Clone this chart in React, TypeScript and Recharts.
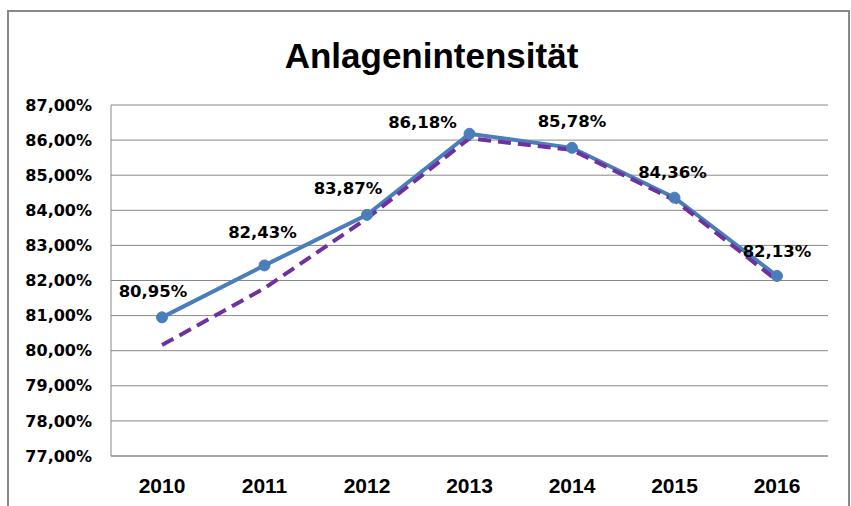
import React from "react";
import {
  LineChart,
  Line,
  XAxis,
  YAxis,
  CartesianGrid,
  LabelList,
} from "recharts";

// values
const years = ["2010", "2011", "2012", "2013", "2014", "2015", "2016"];
const intensity = [80.95, 82.43, 83.87, 86.18, 85.78, 84.36, 82.13];
const trend = [80.16, 81.78, 83.77, 86.05, 85.72, 84.29, 82.0];
const yTicks = [77, 78, 79, 80, 81, 82, 83, 84, 85, 86, 87];

// label nudges (the original labels were hand-placed)
const labelDx = [-9, -2, -19, -47, 0, -2, 0];
const labelDy = [-26, -33, -26, -11, -26, -25, -24];

const data = years.map((year, i) => ({
  year,
  value: intensity[i],
  trend: trend[i],
}));

const pct = (v: number) => `${v.toFixed(2).replace(".", ",")}%`;

const PointLabel = (props: any) => {
  const { x, y, value, index } = props;
  return (
    <text
      x={x + labelDx[index]}
      y={y + labelDy[index]}
      textAnchor="middle"
      dominantBaseline="central"
      fontFamily="DejaVu Sans"
      fontWeight="bold"
      fontSize={16.5}
      fill="#000"
    >
      {pct(value)}
    </text>
  );
};

export default function App() {
  return (
    <div
      style={{
        position: "absolute",
        left: 0,
        top: 0,
        width: 851,
        height: 506,
        overflow: "hidden",
        background: "#fff",
      }}
    >
      <div
        style={{
          position: "absolute",
          left: 7,
          top: 10,
          width: 839,
          height: 600,
          border: "2px solid #888",
        }}
      />
      <div
        style={{
          position: "absolute",
          left: 431.5,
          top: 37.6,
          transform: "translateX(-50%)",
          whiteSpace: "nowrap",
          fontFamily: "Liberation Sans",
          fontWeight: "bold",
          fontSize: 35,
          lineHeight: "35px",
          color: "#000",
        }}
      >
        Anlagenintensität
      </div>
      <div style={{ position: "absolute", left: 0, top: 0 }}>
        <LineChart
          width={851}
          height={506}
          data={data}
          margin={{ top: 105, right: 23, bottom: 0, left: 0 }}
        >
          <CartesianGrid vertical={false} stroke="#888" strokeWidth={1} />
          <XAxis
            dataKey="year"
            height={50}
            padding={{ left: 51, right: 51 }}
            axisLine={{ stroke: "#888" }}
            tickLine={false}
            tickSize={0}
            tickMargin={22}
            tick={{
              fill: "#000",
              fontFamily: "Liberation Sans",
              fontWeight: "bold",
              fontSize: 21,
            }}
          />
          <YAxis
            width={111}
            domain={[77, 87]}
            ticks={yTicks}
            interval={0}
            tickFormatter={pct}
            axisLine={{ stroke: "#888" }}
            tickLine={false}
            tickSize={0}
            tickMargin={19}
            tick={{
              fill: "#000",
              fontFamily: "DejaVu Sans",
              fontWeight: "bold",
              fontSize: 16,
            }}
          />
          <Line
            type="linear"
            dataKey="value"
            stroke="#4A7EBB"
            strokeWidth={4}
            dot={{ r: 5.5, fill: "#4A7EBB", stroke: "#4A7EBB", strokeWidth: 1 }}
            isAnimationActive={false}
          >
            <LabelList dataKey="value" content={PointLabel} />
          </Line>
          <Line
            type="linear"
            dataKey="trend"
            stroke="#7030A0"
            strokeWidth={4}
            strokeDasharray="13 7"
            dot={false}
            isAnimationActive={false}
          />
        </LineChart>
      </div>
    </div>
  );
}
